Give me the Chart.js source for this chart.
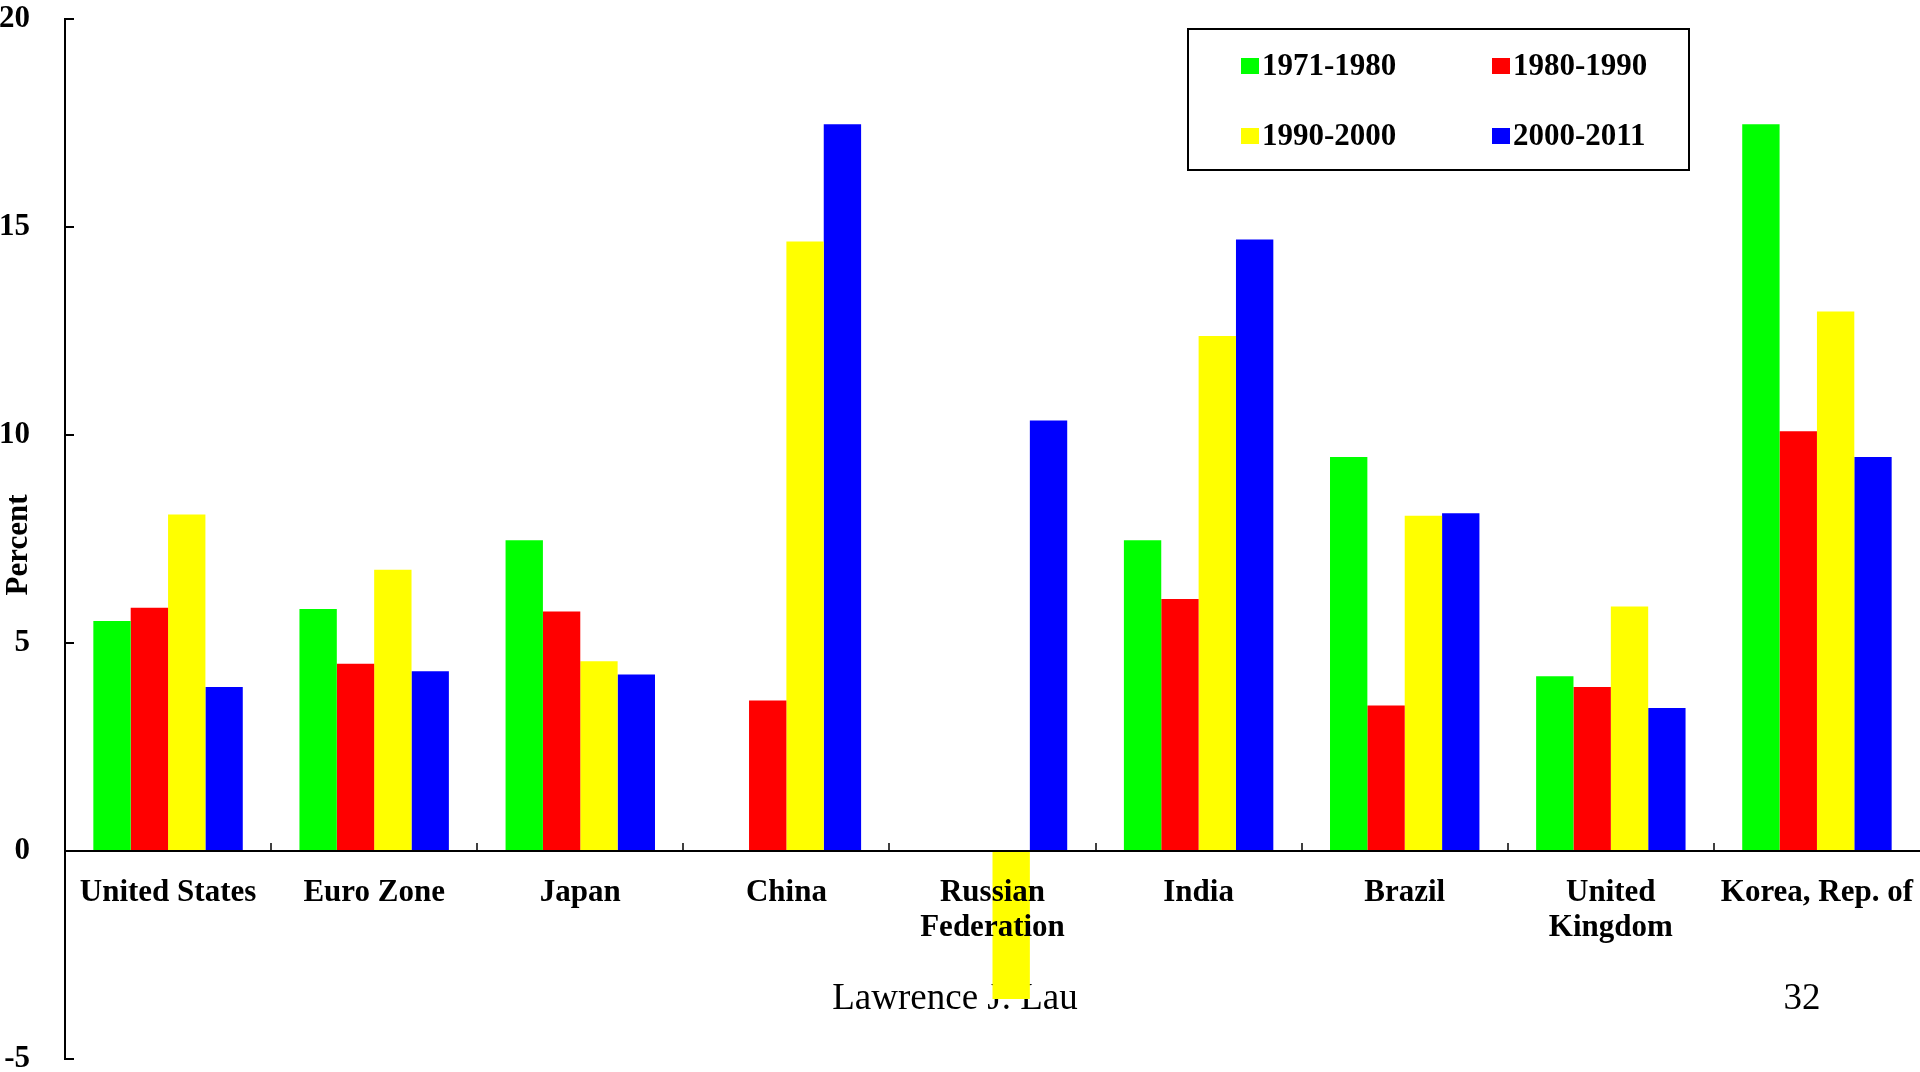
<!DOCTYPE html>
<html>
<head>
<meta charset="utf-8">
<script src="https://cdn.jsdelivr.net/npm/chart.js@4"></script>
<style>
html,body{margin:0;padding:0;background:#fff;}
canvas{display:block;}
</style>
</head>
<body>
<canvas id="c" width="1920" height="1072"></canvas>
<script>
const categories = ['United States', 'Euro Zone', 'Japan', 'China', ['Russian', 'Federation'], 'India', 'Brazil', ['United', 'Kingdom'], 'Korea, Rep. of'];
const seriesLabels = ['1971-1980', '1980-1990', '1990-2000', '2000-2011'];
const s1971_1980 = [5.53, 5.82, 7.47, null, null, 7.47, 9.47, 4.20, 17.47];
const s1980_1990 = [5.85, 4.50, 5.76, 3.62, null, 6.06, 3.50, 3.94, 10.09];
const s1990_2000 = [8.09, 6.76, 4.56, 14.65, -3.56, 12.38, 8.06, 5.88, 12.97];
const s2000_2011 = [3.94, 4.32, 4.24, 17.47, 10.35, 14.70, 8.12, 3.44, 9.47];
const yTicks = [-5, 0, 5, 10, 15, 20];
const colors = ['#00ff00', '#ff0000', '#ffff00', '#0000ff'];
const yTitle = 'Percent';
const footerLeft = 'Lawrence J. Lau';
const footerRight = '32';

const serif = "'Liberation Serif', 'Times New Roman', serif";

const customDraw = {
  id: 'customDraw',
  beforeDatasetsDraw(chart) {
    const ctx = chart.ctx;
    ctx.save();
    ctx.fillStyle = '#000';
    ctx.font = '37px ' + serif;
    ctx.textAlign = 'center';
    ctx.textBaseline = 'middle';
    ctx.fillText(footerLeft, 955, 999);
    ctx.fillText(footerRight, 1802, 999);
    ctx.restore();
  },
  afterDraw(chart) {
    const ctx = chart.ctx;
    const xs = chart.scales.x, ys = chart.scales.y;
    const area = chart.chartArea;
    ctx.save();
    ctx.strokeStyle = '#000';
    ctx.lineWidth = 2;
    // y ticks pointing inward
    yTicks.forEach(v => {
      const y = Math.round(ys.getPixelForValue(v));
      ctx.beginPath();
      ctx.moveTo(area.left, y);
      ctx.lineTo(area.left + 9, y);
      ctx.stroke();
    });
    // x category boundary ticks pointing up
    const half = (xs.getPixelForValue(1) - xs.getPixelForValue(0)) / 2;
    const y0 = ys.getPixelForValue(0);
    ctx.lineWidth = 1.5;
    for (let i = 1; i < categories.length; i++) {
      const x = Math.round(xs.getPixelForValue(i) - half);
      ctx.beginPath();
      ctx.moveTo(x, y0);
      ctx.lineTo(x, y0 - 8);
      ctx.stroke();
    }
    // y title
    ctx.fillStyle = '#000';
    ctx.font = 'bold 31px ' + serif;
    ctx.textAlign = 'center';
    ctx.textBaseline = 'middle';
    ctx.translate(19, 545);
    ctx.rotate(-Math.PI / 2);
    ctx.fillText(yTitle, 0, 0);
    ctx.restore();

    // legend box
    ctx.save();
    ctx.fillStyle = '#fff';
    ctx.fillRect(1188, 29, 501, 141);
    ctx.strokeStyle = '#000';
    ctx.lineWidth = 2;
    ctx.strokeRect(1188, 29, 501, 141);
    const cols = [1241, 1492];
    const rows = [66, 136];
    ctx.font = 'bold 31px ' + serif;
    ctx.textAlign = 'left';
    ctx.textBaseline = 'middle';
    chart.data.datasets.forEach((ds, i) => {
      const x = cols[i % 2], y = rows[Math.floor(i / 2)];
      ctx.fillStyle = ds.backgroundColor;
      ctx.fillRect(x, y - 8, 18, 16);
      ctx.fillStyle = '#000';
      ctx.fillText(ds.label, x + 21, y + 1);
    });
    ctx.restore();
  }
};

const series = [s1971_1980, s1980_1990, s1990_2000, s2000_2011];
new Chart(document.getElementById('c'), {
  type: 'bar',
  data: {
    labels: categories,
    datasets: series.map((d, i) => ({
      label: seriesLabels[i],
      data: d,
      backgroundColor: colors[i],
      borderWidth: 0,
      categoryPercentage: 0.725,
      barPercentage: 1.0
    }))
  },
  options: {
    responsive: false,
    animation: false,
    devicePixelRatio: 1,
    layout: { padding: { top: 19, bottom: 13, left: 0, right: 0 } },
    plugins: {
      legend: { display: false },
      tooltip: { enabled: false },
      title: { display: false }
    },
    scales: {
      y: {
        min: -5,
        max: 20,
        afterBuildTicks(scale) { scale.ticks = yTicks.map(v => ({ value: v })); },
        afterFit(scale) { scale.width = 65; },
        grid: { display: true, drawOnChartArea: false, drawTicks: true, tickLength: 35, tickColor: 'rgba(0,0,0,0)' },
        border: { display: true, color: '#000', width: 2 },
        ticks: {
          padding: 0,
          color: '#000',
          font: { family: serif, size: 31, weight: 'bold', lineHeight: 0.8 }
        }
      },
      x: {
        position: { y: 0 },
        grid: { display: true, drawOnChartArea: false, drawTicks: true, tickLength: 25, tickColor: 'rgba(0,0,0,0)' },
        border: { display: true, color: '#000', width: 2, z: 1 },
        ticks: {
          z: 1,
          padding: 0,
          color: '#000',
          maxRotation: 0,
          autoSkip: false,
          font: { family: serif, size: 31, weight: 'bold', lineHeight: 1.12 }
        }
      }
    }
  },
  plugins: [customDraw]
});
</script>
</body>
</html>
